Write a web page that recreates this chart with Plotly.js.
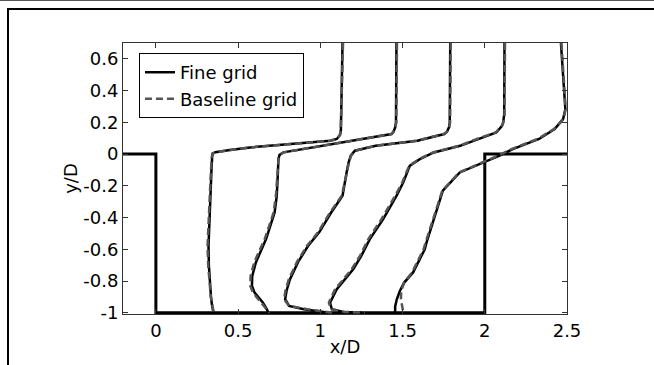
<!DOCTYPE html>
<html>
<head>
<meta charset="utf-8">
<script src="https://cdn.plot.ly/plotly-3.0.1.min.js"></script>
<style>
  html, body { margin: 0; padding: 0; background: #fff; }
  #wrap { position: relative; width: 654px; height: 365px; overflow: hidden; }
  #chart { position: absolute; left: 0; top: 0; width: 654px; height: 365px; }
  #topgray { position: absolute; left: 0; top: 0; width: 654px; height: 1px; background: #555; z-index: 2; }
  #frame { position: absolute; left: 7px; top: 8px; width: 700px; height: 400px;
           border-top: 2px solid #000; border-left: 2px solid #000; z-index: 2; pointer-events: none; }
</style>
</head>
<body>
<div id="wrap">
  <div id="chart"></div>
  <div id="topgray"></div>
  <div id="frame"></div>
</div>
<script>
// Geometry (step walls)
const wallX = [-0.2, 0, 0, 2, 2, 2.5];
const wallY = [0, 0, -1, -1, 0, 0];

// Profile 1
const p1Y     = [0.7, 0.5, 0.3, 0.15, 0.12, 0.095, 0.084, 0.065, 0.042, 0.025, 0.012, 0.003, -0.02, -0.1, -0.263, -0.4, -0.58, -0.7, -0.79, -0.9, -0.95, -1.0];
const p1Fine  = [1.135, 1.132, 1.128, 1.125, 1.12, 1.10, 1.06, 0.83, 0.573, 0.45, 0.362, 0.345, 0.342, 0.338, 0.331, 0.325, 0.32, 0.322, 0.327, 0.335, 0.341, 0.35];
const p1Base  = [1.138, 1.134, 1.129, 1.124, 1.118, 1.098, 1.058, 0.83, 0.575, 0.452, 0.364, 0.344, 0.340, 0.335, 0.327, 0.32, 0.314, 0.318, 0.325, 0.334, 0.342, 0.352];

// Profile 2
const p2Y     = [0.7, 0.4, 0.2, 0.168, 0.14, 0.126, 0.08, 0.065, 0.02, 0.011, -0.005, -0.03, -0.116, -0.263, -0.368, -0.473, -0.536, -0.642, -0.683, -0.768, -0.83, -0.873, -0.936, -0.97, -1.0];
const p2Fine  = [1.463, 1.463, 1.46, 1.455, 1.445, 1.433, 1.18, 1.084, 0.83, 0.776, 0.752, 0.745, 0.742, 0.735, 0.722, 0.69, 0.67, 0.625, 0.608, 0.586, 0.584, 0.6, 0.65, 0.67, 0.685];
const p2Base  = [1.466, 1.465, 1.462, 1.456, 1.444, 1.43, 1.178, 1.082, 0.83, 0.778, 0.754, 0.746, 0.74, 0.73, 0.716, 0.684, 0.662, 0.615, 0.598, 0.576, 0.574, 0.59, 0.64, 0.665, 0.69];

// Profile 3
const p3Y     = [0.7, 0.4, 0.2, 0.17, 0.14, 0.126, 0.084, 0.052, 0.021, -0.01, -0.052, -0.115, -0.2, -0.263, -0.37, -0.49, -0.58, -0.68, -0.79, -0.86, -0.915, -0.957, -0.978, -0.995, -1.0];
const p3Fine  = [1.79, 1.79, 1.787, 1.783, 1.77, 1.754, 1.59, 1.337, 1.21, 1.185, 1.172, 1.16, 1.147, 1.135, 1.065, 0.995, 0.925, 0.865, 0.815, 0.795, 0.786, 0.81, 0.9, 1.0, 1.05];
const p3Base  = [1.793, 1.792, 1.789, 1.784, 1.769, 1.75, 1.585, 1.335, 1.212, 1.187, 1.174, 1.162, 1.145, 1.13, 1.058, 0.988, 0.918, 0.858, 0.808, 0.788, 0.78, 0.81, 0.92, 1.02, 1.07];

// Profile 4
const p4Y     = [0.7, 0.4, 0.25, 0.2, 0.178, 0.136, 0.1, 0.052, 0.01, -0.032, -0.074, -0.179, -0.263, -0.41, -0.536, -0.64, -0.726, -0.852, -0.936, -0.978, -0.995, -1.0];
const p4Fine  = [2.12, 2.12, 2.118, 2.112, 2.105, 2.07, 1.97, 1.85, 1.69, 1.605, 1.544, 1.504, 1.463, 1.382, 1.301, 1.25, 1.2, 1.1, 1.059, 1.07, 1.14, 1.25];
const p4Base  = [2.123, 2.122, 2.12, 2.113, 2.104, 2.066, 1.965, 1.845, 1.685, 1.6, 1.54, 1.498, 1.455, 1.372, 1.292, 1.242, 1.19, 1.09, 1.052, 1.065, 1.15, 1.27];

// Profile 5
const p5Y     = [0.7, 0.5, 0.35, 0.283, 0.22, 0.157, 0.095, 0.031, -0.01, -0.052, -0.116, -0.23, -0.42, -0.557, -0.6, -0.705, -0.746, -0.81, -0.86, -0.915, -0.96, -1.0];
const p5Fine  = [2.463, 2.475, 2.488, 2.49, 2.476, 2.425, 2.33, 2.17, 2.09, 1.99, 1.848, 1.745, 1.686, 1.646, 1.635, 1.585, 1.564, 1.51, 1.485, 1.465, 1.455, 1.455];
const p5Base  = [2.466, 2.478, 2.49, 2.492, 2.478, 2.42, 2.322, 2.162, 2.08, 1.985, 1.845, 1.742, 1.68, 1.64, 1.628, 1.578, 1.558, 1.51, 1.492, 1.49, 1.5, 1.505];

// Tick labels
const xTickVals = [0, 0.5, 1, 1.5, 2, 2.5];
const xTickText = ['0', '0.5', '1', '1.5', '2', '2.5'];
const yTickVals = [0.6, 0.4, 0.2, 0, -0.2, -0.4, -0.6, -0.8, -1];
const yTickText = ['0.6', '0.4', '0.2', '0', '-0.2', '-0.4', '-0.6', '-0.8', '-1'];

const profiles = [
  [p1Y, p1Fine, p1Base],
  [p2Y, p2Fine, p2Base],
  [p3Y, p3Fine, p3Base],
  [p4Y, p4Fine, p4Base],
  [p5Y, p5Fine, p5Base]
];

const traces = [];
traces.push({
  x: wallX, y: wallY, mode: 'lines', showlegend: false, hoverinfo: 'skip',
  line: { color: '#000', width: 3 }
});
profiles.forEach((p, i) => {
  traces.push({
    x: p[1], y: p[0], mode: 'lines', name: 'Fine grid', legendgroup: 'fine',
    showlegend: i === 0, line: { color: '#000', width: 2.5 }
  });
});
profiles.forEach((p, i) => {
  traces.push({
    x: p[2], y: p[0], mode: 'lines', name: 'Baseline grid', legendgroup: 'base',
    showlegend: i === 0, line: { color: '#555', width: 2.5, dash: '7px,4px' }
  });
});

const FS = 18;
const axisCommon = {
  showgrid: false, zeroline: false, showline: true, mirror: 'ticks',
  linecolor: '#333', linewidth: 1, ticks: 'inside', ticklen: 5, tickcolor: '#333',
  tickfont: { family: 'DejaVu Sans', size: FS, color: '#000' }
};

const layout = {
  width: 654, height: 365,
  margin: { l: 123, r: 87, t: 43, b: 51 },
  paper_bgcolor: '#fff', plot_bgcolor: '#fff',
  font: { family: 'DejaVu Sans', size: FS, color: '#000' },
  xaxis: Object.assign({}, axisCommon, {
    range: [-0.2, 2.5], tickmode: 'array', tickvals: xTickVals, ticktext: xTickText,
    ticklabelstandoff: 0,
    title: { text: 'x/D', font: { family: 'DejaVu Sans', size: FS, color: '#000' }, standoff: 0 }
  }),
  yaxis: Object.assign({}, axisCommon, {
    range: [-1.008, 0.7], tickmode: 'array', tickvals: yTickVals, ticktext: yTickText,
    title: { text: 'y/D', font: { family: 'DejaVu Sans', size: FS, color: '#000' }, standoff: 0 }
  }),
  showlegend: true,
  legend: {
    x: 0.036, y: 0.963, xanchor: 'left', yanchor: 'top',
    bgcolor: '#fff', bordercolor: '#000', borderwidth: 1,
    font: { family: 'DejaVu Sans', size: FS, color: '#000' },
    tracegroupgap: 0
  }
};

Plotly.newPlot('chart', traces, layout, { displayModeBar: false, staticPlot: true });
</script>
</body>
</html>
